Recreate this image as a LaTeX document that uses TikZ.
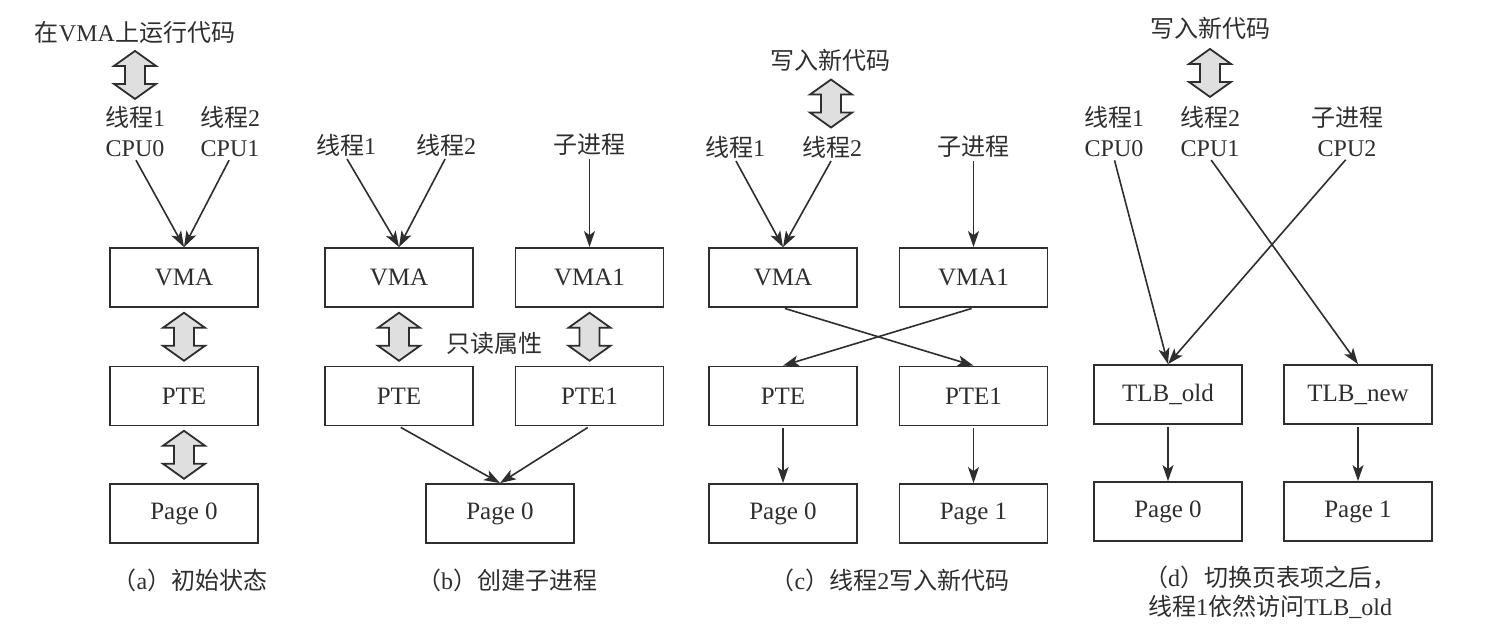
\documentclass[tikz,border=0pt]{standalone}
\usepackage{fontspec}
\setmainfont{Liberation Serif}
\newfontfamily\cjk{Noto Sans CJK SC}
\usetikzlibrary{arrows.meta,calc}
\definecolor{ink}{HTML}{2E2E2E}
\begin{document}
\begin{tikzpicture}[x=1pt,y=-1pt,
  box/.style={draw=ink, line width=1.8pt, minimum width=148pt, minimum height=59pt, inner sep=0pt, text=ink, font=\fontsize{25}{28}\selectfont},
  lab/.style={font=\fontsize{24}{30}\selectfont, align=center, inner sep=1pt, text=ink},
  captxt/.style={font=\fontsize{24}{29}\selectfont, align=center, inner sep=1pt, text=ink},
  arr/.style={draw=ink, line width=1.6pt, shorten <=2pt, -{Stealth[length=16pt,width=11pt,inset=4pt]}},
  dbl/.pic={\draw[ink, line width=1.8pt, fill=gray!25] (0,-24) -- (21,-9) -- (10,-9) -- (10,9) -- (21,9) -- (0,24) -- (-21,9) -- (-10,9) -- (-10,-9) -- (-21,-9) -- cycle;}
]
\useasboundingbox[fill=white] (0,0) rectangle (1486,632);

% ---------------- (a)
\node[lab] (aTop) at (135,32) {{\cjk 在}VMA{\cjk 上运行代码}};
\node[lab] (aT1) at (135,132) {{\cjk 线程}1\\CPU0};
\node[lab] (aT2) at (230,132) {{\cjk 线程}2\\CPU1};
\node[box] (aVMA) at (184,277.5) {VMA};
\node[box] (aPTE) at (184,396) {PTE};
\node[box] (aPg0) at (184,513.5) {Page 0};
\pic at ($(aTop.south)!0.5!(aT1.north)$) {dbl};
\draw[arr] (aT1.south) -- (aVMA.north);
\draw[arr] (aT2.south) -- (aVMA.north);
\pic at ($(aVMA.south)!0.5!(aPTE.north)$) {dbl};
\pic at ($(aPTE.south)!0.5!(aPg0.north)$) {dbl};
\node[captxt] (capA) at (190,580) {{\cjk （}a{\cjk ）初始状态}};

% ---------------- (b)
\node[lab] (bT1) at (346,145) {{\cjk 线程}1};
\node[lab] (bT2) at (446,145) {{\cjk 线程}2};
\node[lab] (bSub) at (589.5,145) {\cjk 子进程};
\node[box] (bVMA) at (399,277.5) {VMA};
\node[box] (bVMA1) at (589.5,277.5) {VMA1};
\node[box] (bPTE) at (399,396) {PTE};
\node[box] (bPTE1) at (589.5,396) {PTE1};
\node[box] (bPg0) at (500,513.5) {Page 0};
\draw[arr] (bT1.south) -- (bVMA.north);
\draw[arr] (bT2.south) -- (bVMA.north);
\draw[arr] (bSub.south) -- (bVMA1.north);
\pic at ($(bVMA.south)!0.5!(bPTE.north)$) {dbl};
\pic at ($(bVMA1.south)!0.5!(bPTE1.north)$) {dbl};
\node[lab] (ro) at (494,343) {\cjk 只读属性};
\draw[arr] (bPTE.south) -- (bPg0.north);
\draw[arr] (bPTE1.south) -- (bPg0.north);
\node[captxt] (capB) at (507,580) {{\cjk （}b{\cjk ）创建子进程}};

% ---------------- (c)
\node[lab] (cTop) at (830,60) {\cjk 写入新代码};
\node[lab] (cT1) at (735,147) {{\cjk 线程}1};
\node[lab] (cT2) at (832,147) {{\cjk 线程}2};
\node[lab] (cSub) at (973.5,147) {\cjk 子进程};
\node[box] (cVMA) at (783,277.5) {VMA};
\node[box] (cVMA1) at (973.5,277.5) {VMA1};
\node[box] (cPTE) at (783,396) {PTE};
\node[box] (cPTE1) at (973.5,396) {PTE1};
\node[box] (cPg0) at (783,513.5) {Page 0};
\node[box] (cPg1) at (973.5,513.5) {Page 1};
\pic at ($(cTop.south)!0.5!(cT2.north)$) {dbl};
\draw[arr] (cT1.south) -- (cVMA.north);
\draw[arr] (cT2.south) -- (cVMA.north);
\draw[arr] (cSub.south) -- (cVMA1.north);
\draw[arr] (cVMA.south) -- (cPTE1.north);
\draw[arr] (cVMA1.south) -- (cPTE.north);
\draw[arr] (cPTE.south) -- (cPg0.north);
\draw[arr] (cPTE1.south) -- (cPg1.north);
\node[captxt] (capC) at (890,580) {{\cjk （}c{\cjk ）线程}2{\cjk 写入新代码}};

% ---------------- (d)
\node[lab] (dTop) at (1210,28) {\cjk 写入新代码};
\node[lab] (dT1) at (1114,132) {{\cjk 线程}1\\CPU0};
\node[lab] (dT2) at (1210,132) {{\cjk 线程}2\\CPU1};
\node[lab] (dT3) at (1347,132) {{\cjk 子进程}\\CPU2};
\node[box] (dOld) at (1168,394.5) {TLB\_old};
\node[box] (dNew) at (1358,394.5) {TLB\_new};
\node[box] (dPg0) at (1168,511.5) {Page 0};
\node[box] (dPg1) at (1358,511.5) {Page 1};
\pic at ($(dTop.south)!0.5!(dT2.north)$) {dbl};
\draw[arr] (dT1.south) -- (dOld.north);
\draw[arr] (dT2.south) -- (dNew.north);
\draw[arr] (dT3.south) -- (dOld.north);
\draw[arr] (dOld.south) -- (dPg0.north);
\draw[arr] (dNew.south) -- (dPg1.north);
\node[captxt] (capD) at (1270,592) {{\cjk （}d{\cjk ）切换页表项之后，}\\{\cjk 线程}1{\cjk 依然访问}TLB\_old};
\end{tikzpicture}
\end{document}
